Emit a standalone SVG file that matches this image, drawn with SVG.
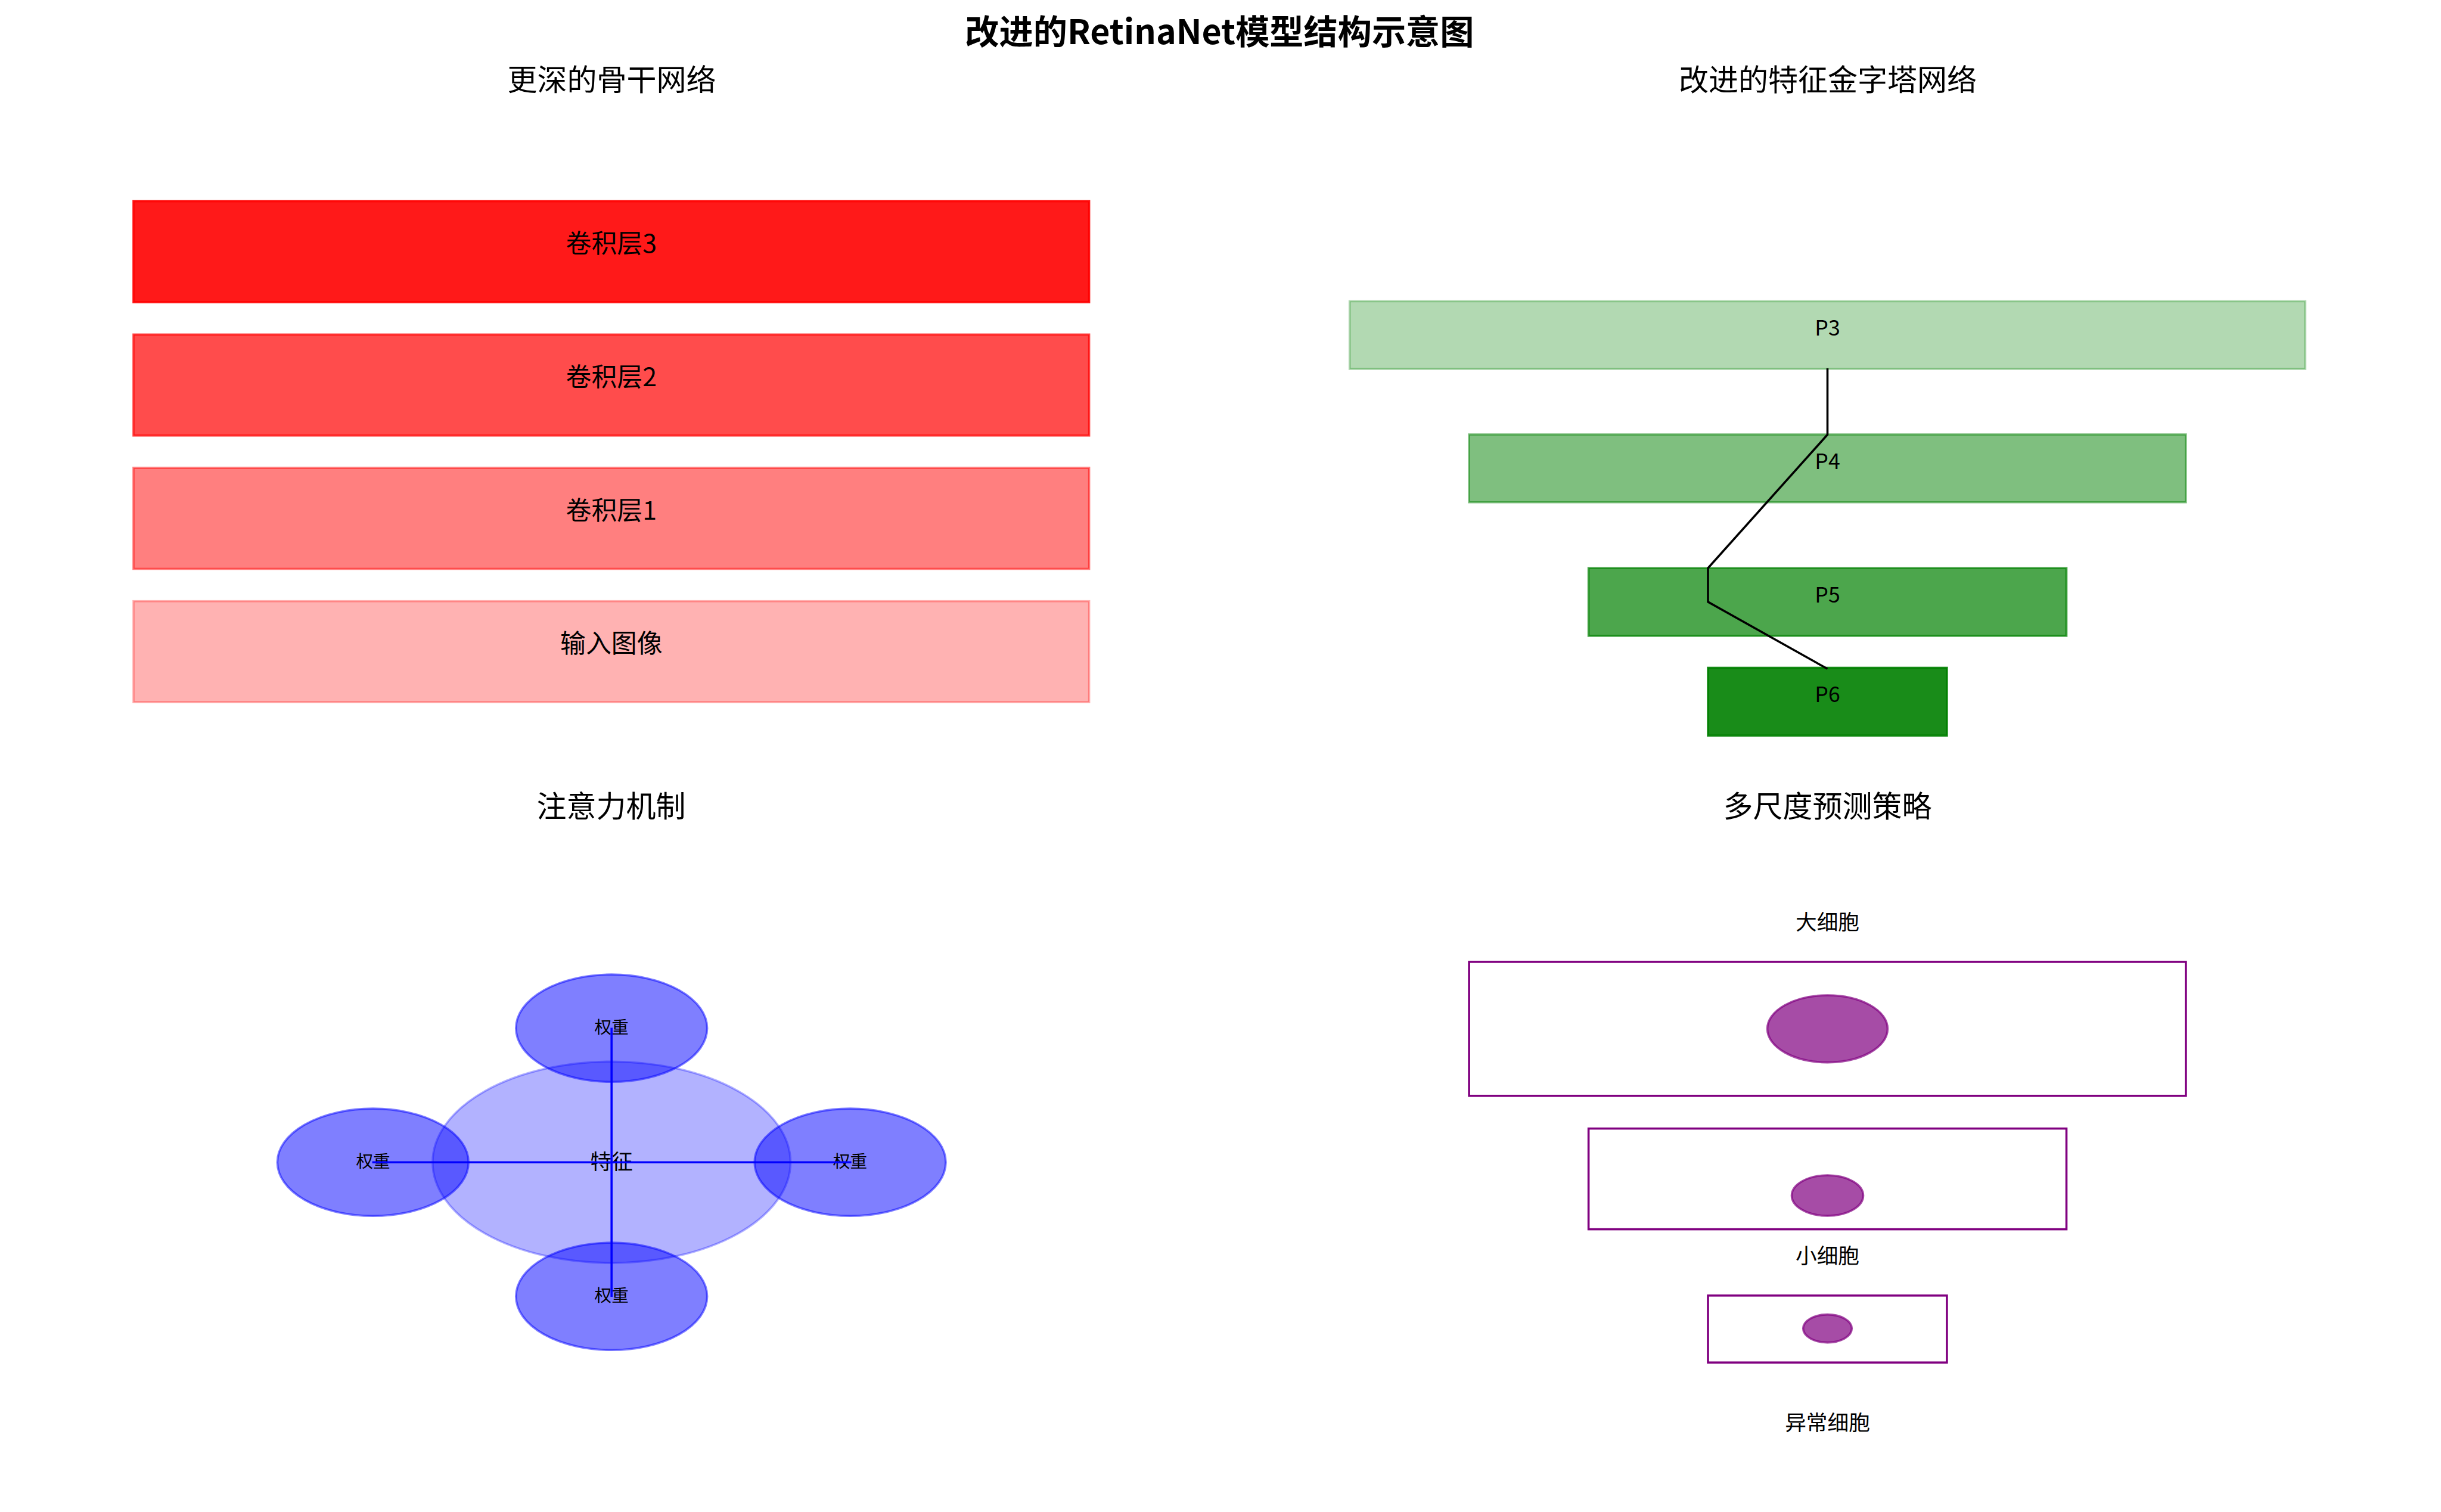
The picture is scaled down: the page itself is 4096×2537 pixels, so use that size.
<svg xmlns="http://www.w3.org/2000/svg" width="4096" height="2537" viewBox="0 0 4096 2537">
<style>
text { font-family: "Noto Sans CJK SC", "Noto Sans", sans-serif; fill: #000; text-anchor: middle; }
.title { font-size: 57.2px; font-weight: bold; }
.sub { font-size: 50px; }
.lbl { font-size: 42.9px; }
.sm { font-size: 35.7px; }
.xs { font-size: 28.6px; }
.red { fill: #ff0000; stroke: #ff0000; stroke-width: 3.58; }
.grn { fill: #008000; stroke: #008000; stroke-width: 3.58; }
.blu { fill: #0000ff; stroke: #0000ff; stroke-width: 3.58; }
.box { fill: none; stroke: #800080; stroke-width: 3.58; }
.cell { fill: #800080; stroke: #800080; stroke-width: 3.58; fill-opacity: 0.7; stroke-opacity: 0.7; }
.a9 { fill-opacity: 0.9; stroke-opacity: 0.9; }
.a7 { fill-opacity: 0.7; stroke-opacity: 0.7; }
.a5 { fill-opacity: 0.5; stroke-opacity: 0.5; }
.a3 { fill-opacity: 0.3; stroke-opacity: 0.3; }
.link { fill: none; stroke: #000; stroke-width: 3.58; stroke-linejoin: miter; }
.blink { fill: none; stroke: #0000ff; stroke-width: 3.58; }
</style>
<rect width="4096" height="2537" fill="#ffffff"/>

<g id="titles">
<text class="title" x="2046.4" y="74">改进的RetinaNet模型结构示意图</text>
<text class="sub" x="1026.5" y="152">更深的骨干网络</text>
<text class="sub" x="3067" y="152">改进的特征金字塔网络</text>
<text class="sub" x="1025.5" y="1371">注意力机制</text>
<text class="sub" x="3066.5" y="1371">多尺度预测策略</text>
</g>

<!-- Backbone -->
<g id="conv3">
<rect class="red a9" x="224" y="337.6" width="1603.6" height="169.5"/>
<text class="lbl" x="1025.8" y="424.4">卷积层3</text>
</g>
<g id="conv2">
<rect class="red a7" x="224" y="561.3" width="1603.6" height="169.5"/>
<text class="lbl" x="1025.8" y="648.4">卷积层2</text>
</g>
<g id="conv1">
<rect class="red a5" x="224" y="785" width="1603.6" height="169.5"/>
<text class="lbl" x="1025.8" y="871.6">卷积层1</text>
</g>
<g id="input">
<rect class="red a3" x="224" y="1008.7" width="1603.6" height="169.5"/>
<text class="lbl" x="1025.8" y="1095.2">输入图像</text>
</g>

<!-- FPN -->
<g id="p3">
<rect class="grn a3" x="2264.7" y="505.4" width="1603.6" height="113.7"/>
<text class="sm" x="3066.5" y="563.3">P3</text>
</g>
<g id="p4">
<rect class="grn a5" x="2465.1" y="729" width="1202.8" height="113.7"/>
<text class="sm" x="3066.5" y="786.9">P4</text>
</g>
<g id="p5">
<rect class="grn a7" x="2665.6" y="953.2" width="801.9" height="113.7"/>
<text class="sm" x="3066.5" y="1011.1">P5</text>
</g>
<g id="p6">
<rect class="grn a9" x="2866" y="1120.5" width="400.9" height="113.7"/>
<text class="sm" x="3066.5" y="1178.4">P6</text>
</g>

<!-- Attention -->
<g id="feature">
<ellipse class="blu a3" cx="1026.2" cy="1950.2" rx="300.3" ry="169"/>
</g>
<g id="weight-top">
<ellipse class="blu a5" cx="1026.2" cy="1725.2" rx="160.4" ry="90.1"/>
</g>
<g id="weight-left">
<ellipse class="blu a5" cx="625.8" cy="1950.2" rx="160.4" ry="90.1"/>
</g>
<g id="weight-right">
<ellipse class="blu a5" cx="1426.6" cy="1950.2" rx="160.4" ry="90.1"/>
</g>
<g id="weight-bottom">
<ellipse class="blu a5" cx="1026.2" cy="2175.2" rx="160.4" ry="90.1"/>
</g>
<g id="attention-labels">
<text class="sm" x="1026.2" y="1962.1">特征</text>
<text class="xs" x="1026.2" y="1733.5">权重</text>
<text class="xs" x="626" y="1958.5">权重</text>
<text class="xs" x="1426.4" y="1958.5">权重</text>
<text class="xs" x="1026.2" y="2183.5">权重</text>
</g>

<!-- Multi-scale -->
<g id="large-cell">
<text class="sm" x="3066.5" y="1560.2">大细胞</text>
<rect class="box" x="2465.1" y="1613.9" width="1202.8" height="224.8"/>
<ellipse class="cell" cx="3066.5" cy="1726.3" rx="100.9" ry="56.3"/>
</g>
<g id="small-cell">
<rect class="box" x="2665.6" y="1893.6" width="801.9" height="169"/>
<ellipse class="cell" cx="3066.5" cy="2006" rx="60" ry="34"/>
<text class="sm" x="3066.5" y="2120">小细胞</text>
</g>
<g id="abnormal-cell">
<rect class="box" x="2866" y="2173.8" width="400.9" height="112.4"/>
<ellipse class="cell" cx="3066.5" cy="2229.1" rx="40.8" ry="23.5"/>
<text class="sm" x="3066.5" y="2399.7">异常细胞</text>
</g>

<g id="connectors">
<polyline class="link" points="3066.5,618 3066.5,729.3 2866,953.2 2866,1009.9 3066.5,1122.3"/>
<line class="blink" x1="624.6" y1="1950.2" x2="1428.6" y2="1950.2"/>
<line class="blink" x1="1026.2" y1="1724.6" x2="1026.2" y2="2175.9"/>
</g>
</svg>
